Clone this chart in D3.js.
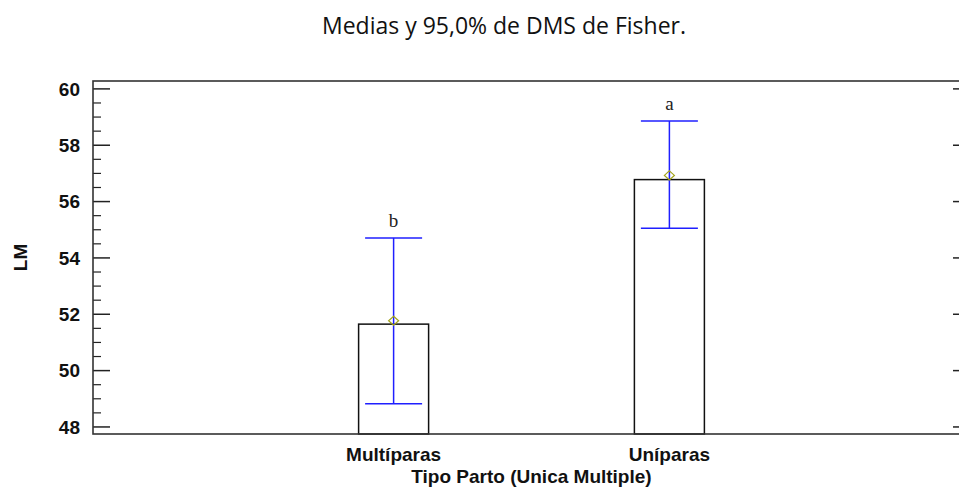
<!DOCTYPE html>
<html>
<head>
<meta charset="utf-8">
<script src="https://cdn.jsdelivr.net/npm/d3@7"></script>
<style>
  html, body { margin: 0; padding: 0; background: #fff; }
  svg { display: block; }
</style>
</head>
<body>
<svg id="chart" width="959" height="487"></svg>
<script>
// Group means with 95% Fisher LSD intervals
const categories = ["Multíparas", "Uníparas"];
const barValues = [51.65, 56.78];
const means = [51.77, 56.93];
const lower = [48.82, 55.05];
const upper = [54.71, 58.86];
const groupLetters = ["b", "a"];
const yTicks = [48, 50, 52, 54, 56, 58, 60];

const svg = d3.select("#chart");
const plotLeft = 93, plotRight = 970, plotTop = 81, plotBottom = 434;

const y = d3.scaleLinear().domain([47.75, 60.28]).range([plotBottom, plotTop]);
const x = d3.scaleLinear().domain([-0.09, 3.09]).range([plotLeft, plotRight]);
const pos = i => x(i + 1);

const barW = 70, capW = 57;
const sans = "'Liberation Sans', Arial, sans-serif";

// Title
svg.append("text")
  .attr("x", 504).attr("y", 34)
  .attr("text-anchor", "middle")
  .style("font-family", "'Open Sans', sans-serif")
  .style("font-size", "23px")
  .attr("fill", "#111")
  .text("Medias y 95,0% de DMS de Fisher.");

// Bars
const g = svg.append("g");
categories.forEach((c, i) => {
  g.append("rect")
    .attr("x", pos(i) - barW / 2)
    .attr("y", y(barValues[i]))
    .attr("width", barW)
    .attr("height", y(47.75) - y(barValues[i]))
    .attr("fill", "#fff")
    .attr("stroke", "#111")
    .attr("stroke-width", 1.5);
});

// Interval lines and caps
categories.forEach((c, i) => {
  const cx = pos(i);
  g.append("line").attr("x1", cx).attr("x2", cx)
    .attr("y1", y(lower[i])).attr("y2", y(upper[i]))
    .attr("stroke", "#1f1fff").attr("stroke-width", 1.5);
  [lower[i], upper[i]].forEach(v => {
    g.append("line").attr("x1", cx - capW / 2).attr("x2", cx + capW / 2)
      .attr("y1", y(v)).attr("y2", y(v))
      .attr("stroke", "#1f1fff").attr("stroke-width", 1.5);
  });
  // mean marker
  const my = y(means[i]);
  g.append("path")
    .attr("d", `M${cx},${my - 4.5} L${cx + 5},${my} L${cx},${my + 4.5} L${cx - 5},${my} Z`)
    .attr("fill", "none").attr("stroke", "#a3a31a").attr("stroke-width", 1.2);
  // group letter
  g.append("text")
    .attr("x", cx).attr("y", y(upper[i]) - 11)
    .attr("text-anchor", "middle")
    .style("font-family", "'Liberation Serif', 'DejaVu Serif', serif")
    .style("font-size", "19px")
    .attr("fill", "#222")
    .text(groupLetters[i]);
});

// Ticks (major on both sides, minor every 0.5)
const minorTicks = d3.range(48, 60.01, 0.5).filter(v => !yTicks.includes(v));
const axisG = svg.append("g");
yTicks.forEach(v => {
  axisG.append("line").attr("x1", plotLeft).attr("x2", plotLeft + 17)
    .attr("y1", y(v)).attr("y2", y(v)).attr("stroke", "#222").attr("stroke-width", 1.5);
  axisG.append("line").attr("x1", plotRight - 17).attr("x2", plotRight)
    .attr("y1", y(v)).attr("y2", y(v)).attr("stroke", "#222").attr("stroke-width", 1.5);
  axisG.append("text")
    .attr("x", 80).attr("y", y(v)).attr("dy", "0.36em")
    .attr("text-anchor", "end")
    .style("font-family", sans)
    .style("font-weight", "bold").style("font-size", "19px")
    .attr("fill", "#111")
    .text(v);
});
minorTicks.forEach(v => {
  axisG.append("line").attr("x1", plotLeft).attr("x2", plotLeft + 8)
    .attr("y1", y(v)).attr("y2", y(v)).attr("stroke", "#222").attr("stroke-width", 1.2);
  axisG.append("line").attr("x1", plotRight - 8).attr("x2", plotRight)
    .attr("y1", y(v)).attr("y2", y(v)).attr("stroke", "#222").attr("stroke-width", 1.2);
});

// Frame
svg.append("rect")
  .attr("x", plotLeft).attr("y", plotTop)
  .attr("width", plotRight - plotLeft).attr("height", plotBottom - plotTop)
  .attr("fill", "none").attr("stroke", "#333").attr("stroke-width", 1.6);

// Category labels
categories.forEach((c, i) => {
  svg.append("text")
    .attr("x", pos(i)).attr("y", 461)
    .attr("text-anchor", "middle")
    .style("font-family", sans)
    .style("font-weight", "bold").style("font-size", "19px")
    .attr("fill", "#111")
    .text(c);
});

// Axis titles
svg.append("text")
  .attr("x", (plotLeft + plotRight) / 2).attr("y", 483)
  .attr("text-anchor", "middle")
  .style("font-family", sans)
  .style("font-weight", "bold").style("font-size", "19px")
  .attr("fill", "#111")
  .text("Tipo Parto (Unica Multiple)");

svg.append("text")
  .attr("transform", `translate(27, ${(plotTop + plotBottom) / 2}) rotate(-90)`)
  .attr("text-anchor", "middle")
  .style("font-family", sans)
  .style("font-weight", "bold").style("font-size", "19px")
  .attr("fill", "#111")
  .text("LM");
</script>
</body>
</html>
